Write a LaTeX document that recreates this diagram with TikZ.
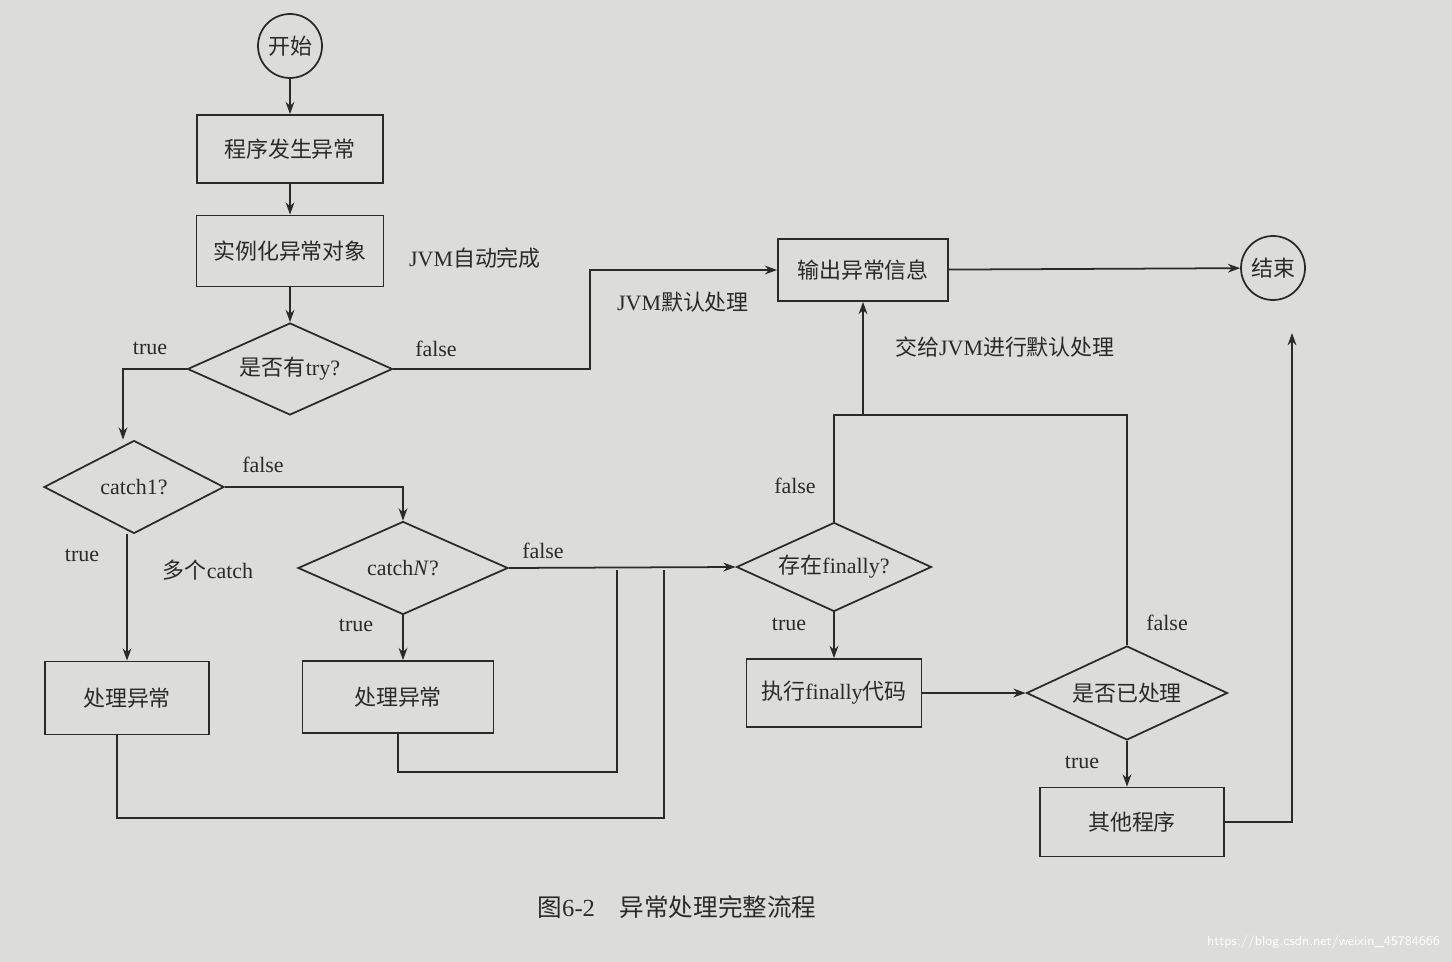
\documentclass[tikz,border=0pt]{standalone}
\usepackage{fontspec}
\setmainfont{Liberation Serif}
\newfontfamily\cjk{Noto Sans CJK SC}
\usetikzlibrary{shapes.geometric,arrows.meta}
\definecolor{paper}{HTML}{DCDCDA}
\definecolor{ink}{HTML}{2A2A2A}
\begin{document}
\begin{tikzpicture}[x=0.02cm,y=-0.02cm,
  every node/.style={text=ink,font=\fontsize{12.5}{15}\selectfont},
  box/.style={draw=ink,line width=1pt,rectangle,inner sep=0pt},
  dia/.style={draw=ink,line width=1pt,diamond,aspect=2.2,inner sep=0pt},
  circ/.style={draw=ink,line width=1pt,circle,minimum size=1.28cm,inner sep=0pt},
  ln/.style={draw=ink,line width=1pt},
  ar/.style={ln,-{Stealth[length=7pt,width=5pt]}},
  lab/.style={font=\fontsize{12.5}{15}\selectfont}]
\fill[paper] (0,0) rectangle (1452,962);
\useasboundingbox (0,0) rectangle (1452,962);

\node[circ] (start) at (290,46) {{\cjk 开始}};
\node[box,minimum width=3.72cm,minimum height=1.36cm] (p1) at (290,149) {{\cjk 程序发生异常}};
\node[box,minimum width=3.74cm,minimum height=1.42cm] (p2) at (290,251) {{\cjk 实例化异常对象}};
\node[lab] (jvm1) at (475,258) {JVM{\cjk 自动完成}};
\node[dia,minimum width=4.1cm,minimum height=1.84cm] (d1) at (290,369) {{\cjk 是否有}try?};
\node[dia,minimum width=3.6cm,minimum height=1.86cm] (d2) at (134,487) {catch1?};
\node[dia,minimum width=4.2cm,minimum height=1.86cm] (d3) at (403,568) {catch\textit{N}?};
\node[box,minimum width=3.28cm,minimum height=1.46cm] (h1) at (127,698) {{\cjk 处理异常}};
\node[box,minimum width=3.82cm,minimum height=1.44cm] (h2) at (398,697) {{\cjk 处理异常}};
\node[dia,minimum width=3.9cm,minimum height=1.78cm] (d4) at (834,567) {{\cjk 存在}finally?};
\node[box,minimum width=3.5cm,minimum height=1.36cm] (f) at (834,693) {{\cjk 执行}finally{\cjk 代码}};
\node[dia,minimum width=4.02cm,minimum height=1.88cm] (d5) at (1127,693) {{\cjk 是否已处理}};
\node[box,minimum width=3.68cm,minimum height=1.38cm] (other) at (1132,822) {{\cjk 其他程序}};
\node[box,minimum width=3.4cm,minimum height=1.24cm] (out) at (863,270) {{\cjk 输出异常信息}};
\node[circ] (end) at (1273,268) {{\cjk 结束}};

\coordinate (a1) at (123,369);
\coordinate (j1) at (590,369);
\coordinate (j2) at (617,570);
\coordinate (j3) at (664,570);
\coordinate (t1) at (834,415);
\coordinate (t2) at (863,415);
\coordinate (t3) at (1127,415);
\coordinate (e1) at (1292,822);
\coordinate (e2) at (1292,333);

\draw[ar] (start) -- (p1);
\draw[ar] (p1) -- (p2);
\draw[ar] (p2) -- (d1);
\draw[ar] (d1.west) -- (a1) -- (d2.north -| a1);
\draw[ar] (d1.east) -- (j1) |- (out.west);
\draw[ar] (d2.east) -| (d3.north);
\draw[ar] (d2.south -| h1.north) -- (h1.north);
\draw[ar] (d3.south) -- (h2.north -| d3.south);
\draw[ar] (d3.east) -- (d4.west);
\draw[ln] (h2.south) -- ++(0,38) -| (j2);
\draw[ln] (h1.south -| 117,0) -- (117,818) -| (j3);
\draw[ln] (d4.north) -- (t1) -- (t3) -- (d5.north);
\draw[ar] (t2) -- (out.south -| t2);
\draw[ar] (d4) -- (f);
\draw[ar] (f) -- (d5);
\draw[ar] (d5.south) -- (other.north -| d5.south);
\draw[ar] (other.east) -- (e1) -- (e2);
\draw[ar] (out) -- (end);

\node[lab] at (150,348) {true};
\node[lab] at (436,349) {false};
\node[lab] at (683,302) {JVM{\cjk 默认处理}};
\node[lab] at (263,465) {false};
\node[lab] at (82,555) {true};
\node[lab] at (208,570) {{\cjk 多个}catch};
\node[lab] at (356,625) {true};
\node[lab] at (543,551) {false};
\node[lab] at (795,486) {false};
\node[lab] at (1167,623) {false};
\node[lab] at (1005,347) {{\cjk 交给}JVM{\cjk 进行默认处理}};
\node[lab] at (789,624) {true};
\node[lab] at (1082,762) {true};
\node[font=\fontsize{14}{16}\selectfont] at (677,907) {{\cjk 图}6-2\quad{\cjk 异常处理完整流程}};
\node[font=\fontsize{7.5}{9}\selectfont\sffamily,text=white,anchor=east] at (1446,942) {https://blog.csdn.net/weixin\_45784666};
\end{tikzpicture}
\end{document}
